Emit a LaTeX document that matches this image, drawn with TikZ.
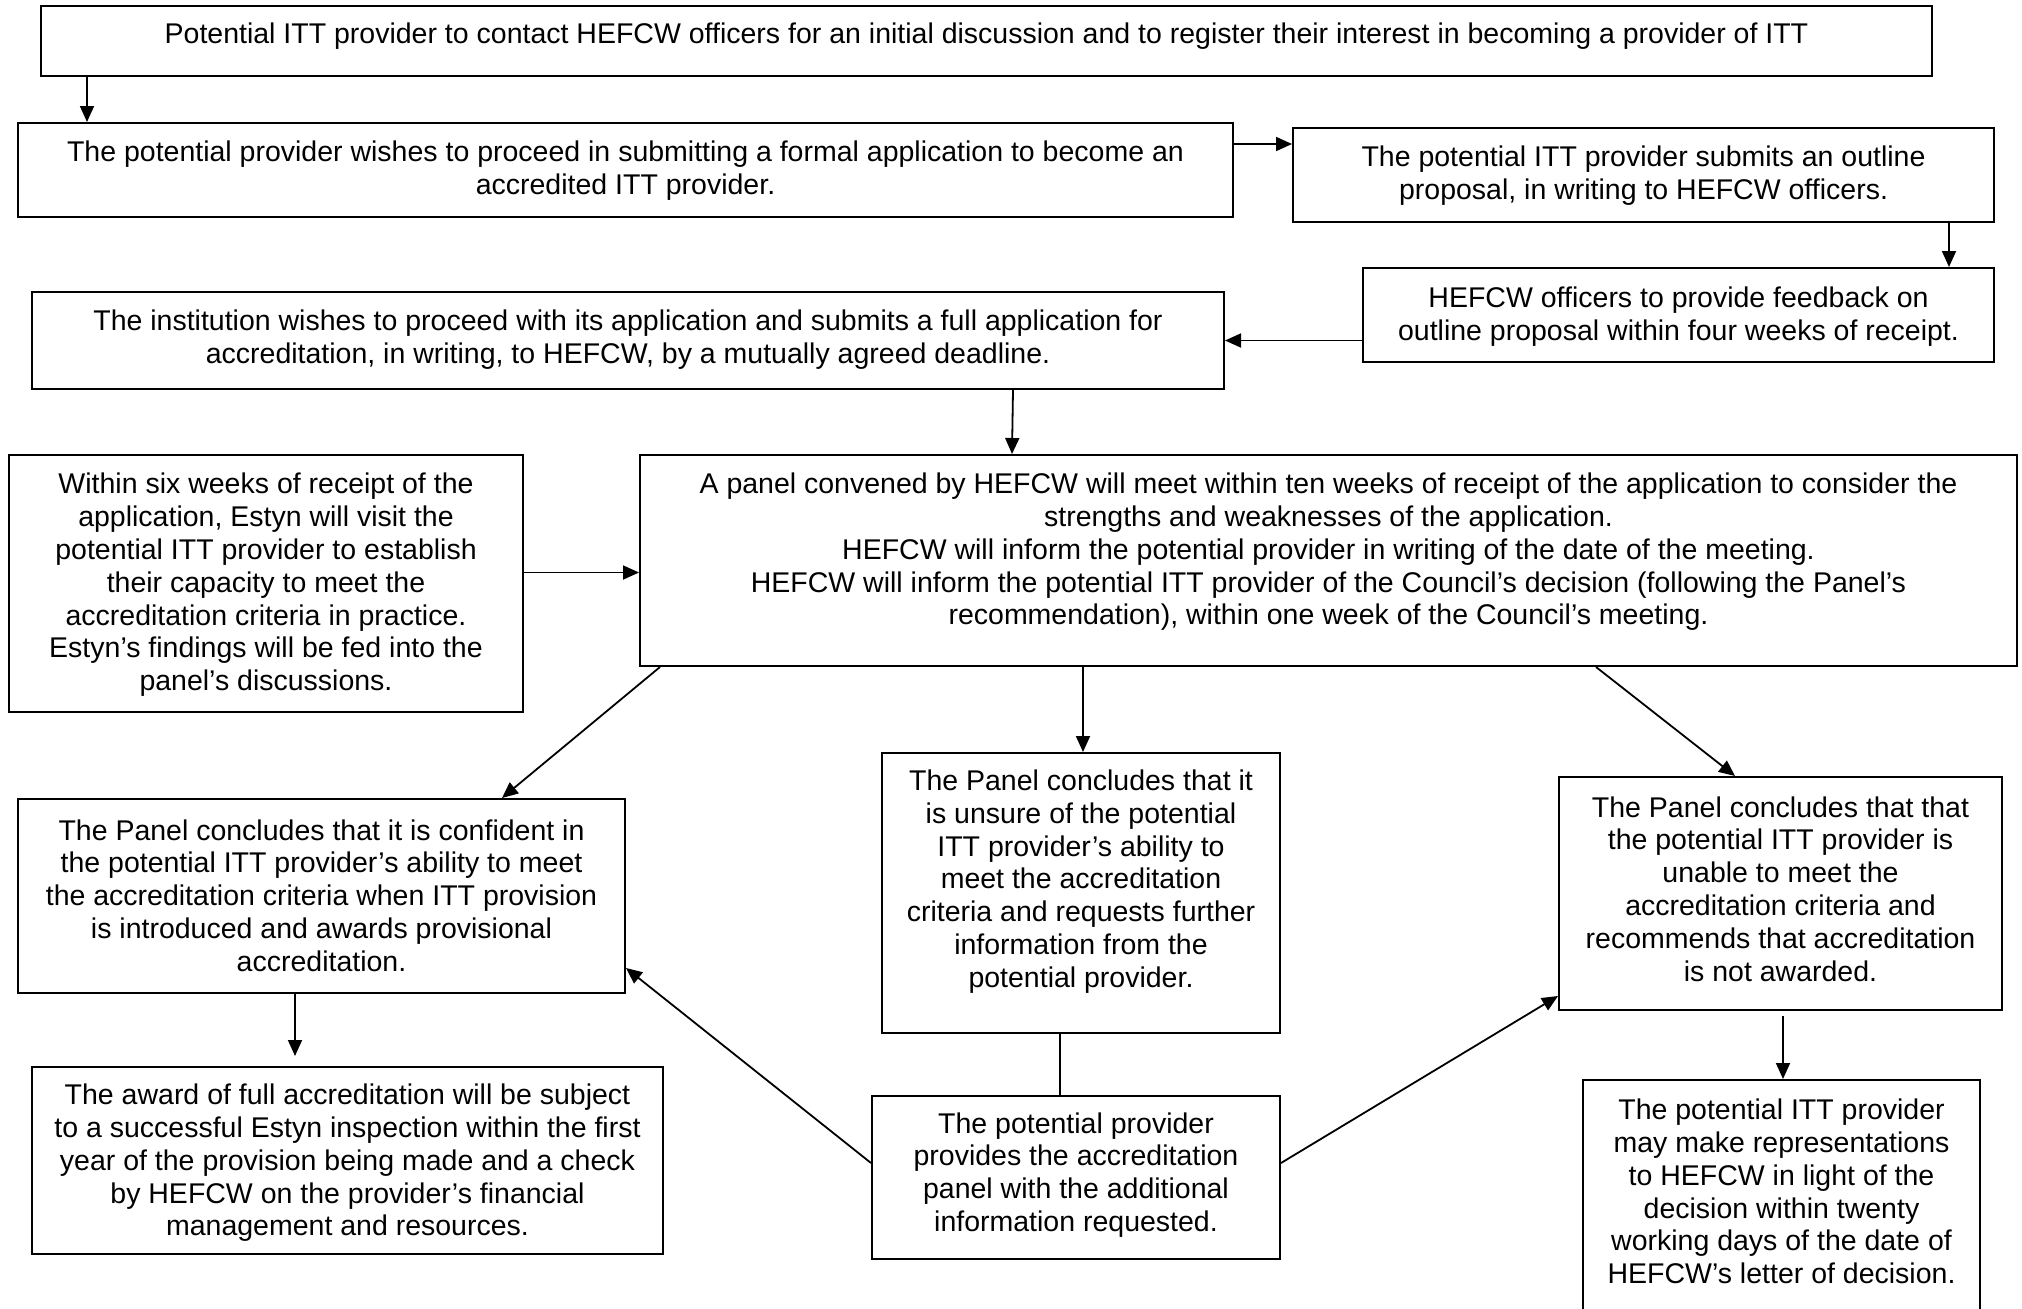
\documentclass[tikz,border=0pt]{standalone}
\usepackage{fontspec}
\setmainfont{Liberation Sans}
\usepackage{tikz}
\usetikzlibrary{arrows.meta}
\newcommand{\drawa}{\draw[line width=1.8pt,->]}
\newcommand{\drawl}{\draw[line width=1.8pt]}

\tikzset{
  box/.style={draw, line width=2pt, inner sep=0pt},
  txt/.style={align=center, inner sep=0pt},
}

\begin{document}
\begin{tikzpicture}[x=1pt, y=-1pt, >={Triangle[length=16pt,width=14pt]},
  font=\fontsize{28.5}{32.8}\selectfont]
\useasboundingbox (0,0) rectangle (2022,1309);
% Hang tren
\node[box, minimum width=1891, minimum height=70] (contact) at (986.5,41) {};
\node[txt] (contact-t) at ([yshift=4.5]contact.center) {Potential ITT provider to contact HEFCW officers for an initial discussion and to register their interest in becoming a provider of ITT};

\node[box, minimum width=1215, minimum height=94] (wishes) at (625.5,170) {};
\node[txt] (wishes-t) at ([yshift=-0.5]wishes.center) {The potential provider wishes to proceed in submitting a formal application to become an\\accredited ITT provider.};

\node[box, minimum width=701, minimum height=94] (outline) at (1643.5,175) {};
\node[txt] (outline-t) at ([yshift=-0.5]outline.center) {The potential ITT provider submits an outline\\proposal, in writing to HEFCW officers.};

\node[box, minimum width=631, minimum height=94] (feedback) at (1678.5,315) {};
\node[txt] (feedback-t) at ([yshift=-1.5]feedback.center) {HEFCW officers to provide feedback on\\outline proposal within four weeks of receipt.};

\node[box, minimum width=1192, minimum height=97] (institution) at (628,340.5) {};
\node[txt] (institution-t) at ([yshift=0.5]institution.center) {The institution wishes to proceed with its application and submits a full application for\\accreditation, in writing, to HEFCW, by a mutually agreed deadline.};

% Hang giua
\node[box, minimum width=1377, minimum height=211] (panel) at (1328.5,560.5) {};
\node[txt] (panel-t) at ([yshift=8.5]panel.center) {A panel convened by HEFCW will meet within ten weeks of receipt of the application to consider the\\strengths and weaknesses of the application.\\HEFCW will inform the potential provider in writing of the date of the meeting.\\HEFCW will inform the potential ITT provider of the Council’s decision (following the Panel’s\\recommendation), within one week of the Council’s meeting.};

\node[box, minimum width=514, minimum height=257] (estyn) at (266,583.5) {};
\node[txt] (estyn-t) at ([yshift=-1.5]estyn.center) {Within six weeks of receipt of the\\application, Estyn will visit the\\potential ITT provider to establish\\their capacity to meet the\\accreditation criteria in practice.\\Estyn’s findings will be fed into the\\panel’s discussions.};

% Ket luan cua Panel
\node[box, minimum width=607, minimum height=194] (confident) at (321.5,896) {};
\node[txt] (confident-t) at ([yshift=0.5]confident.center) {The Panel concludes that it is confident in\\the potential ITT provider’s ability to meet\\the accreditation criteria when ITT provision\\is introduced and awards provisional\\accreditation.};

\node[box, minimum width=398, minimum height=280] (unsure) at (1081,893) {};
\node[txt] (unsure-t) at ([yshift=11.5]unsure.center) {The Panel concludes that it\\is unsure of the potential\\ITT provider’s ability to\\meet the accreditation\\criteria and requests further\\information from the\\potential provider.};

\node[box, minimum width=443, minimum height=233] (unable) at (1780.5,893.5) {};
\node[txt] (unable-t) at ([yshift=4.5]unable.center) {The Panel concludes that that\\the potential ITT provider is\\unable to meet the\\accreditation criteria and\\recommends that accreditation\\is not awarded.};

% Hang duoi
\node[box, minimum width=631, minimum height=187] (award) at (347.5,1160.5) {};
\node[txt] (award-t) at ([yshift=-2.5]award.center) {The award of full accreditation will be subject\\to a successful Estyn inspection within the first\\year of the provision being made and a check\\by HEFCW on the provider’s financial\\management and resources.};

\node[box, minimum width=408, minimum height=163] (provides) at (1076,1177.5) {};
\node[txt] (provides-t) at ([yshift=2.5]provides.center) {The potential provider\\provides the accreditation\\panel with the additional\\information requested.};

\node[box, minimum width=397, minimum height=250] (represent) at (1781.5,1205) {};
\node[txt] (represent-t) at ([yshift=13.5]represent.center) {The potential ITT provider\\may make representations\\to HEFCW in light of the\\decision within twenty\\working days of the date of\\HEFCW’s letter of decision.};

% Mui ten
\drawa ([xshift=47]contact.south west) -- ([xshift=70]wishes.north west);
\drawa ([yshift=-22]wishes.north east) -- ([yshift=-17]outline.north west);
\drawa ([xshift=-46]outline.south east) -- ([xshift=-46]feedback.north east);
\drawa (feedback.west |- institution.east) -- (institution.east);
\drawa ([xshift=385]institution.south) -- ([xshift=373]panel.north west);
\drawa ([yshift=11]estyn.east) -- ([yshift=-12]panel.west);

\drawa ([xshift=21]panel.south west) -- ([xshift=-124]confident.north east);
\drawa ([xshift=-245.5]panel.south) -- ([xshift=2]unsure.north);
\drawa ([xshift=267.5]panel.south) -- ([xshift=-45.5]unable.north);

\drawa[shorten >=10pt] ([xshift=-26.5]confident.south) -- ([xshift=-52.5]award.north);
\drawl ([xshift=-21]unsure.south) -- ([xshift=-16]provides.north);
\drawa ([yshift=14.5]provides.west) -- ([yshift=26]confident.south east);
\drawa ([yshift=14.5]provides.east) -- ([yshift=15]unable.south west);
\drawa[shorten <=5pt] ([xshift=2.5]unable.south) -- ([xshift=1.5]represent.north);

\end{tikzpicture}
\end{document}
